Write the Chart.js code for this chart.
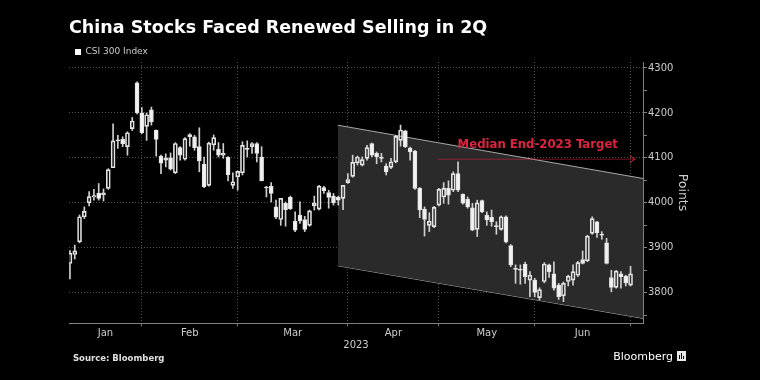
<!DOCTYPE html>
<html><head><meta charset="utf-8">
<script src="https://cdn.jsdelivr.net/npm/chart.js@4.4.0/dist/chart.umd.min.js"></script>
<style>html,body{margin:0;padding:0;background:#000;}#wrap{width:760px;height:380px;}</style>
</head><body><div id="wrap"><canvas id="c" width="760" height="380"></canvas></div>
<script>
// ---- Data: CSI 300 daily OHLC, 2023-01-03 .. 2023-06-30 (trading days) ----
const dates = [
 '2023-01-03','2023-01-04','2023-01-05','2023-01-06','2023-01-09','2023-01-10','2023-01-11','2023-01-12','2023-01-13','2023-01-16','2023-01-17','2023-01-18','2023-01-19','2023-01-20','2023-01-30','2023-01-31',
 '2023-02-01','2023-02-02','2023-02-03','2023-02-06','2023-02-07','2023-02-08','2023-02-09','2023-02-10','2023-02-13','2023-02-14','2023-02-15','2023-02-16','2023-02-17','2023-02-20','2023-02-21','2023-02-22','2023-02-23','2023-02-24','2023-02-27','2023-02-28',
 '2023-03-01','2023-03-02','2023-03-03','2023-03-06','2023-03-07','2023-03-08','2023-03-09','2023-03-10','2023-03-13','2023-03-14','2023-03-15','2023-03-16','2023-03-17','2023-03-20','2023-03-21','2023-03-22','2023-03-23','2023-03-24','2023-03-27','2023-03-28','2023-03-29','2023-03-30','2023-03-31',
 '2023-04-03','2023-04-04','2023-04-06','2023-04-07','2023-04-10','2023-04-11','2023-04-12','2023-04-13','2023-04-14','2023-04-17','2023-04-18','2023-04-19','2023-04-20','2023-04-21','2023-04-24','2023-04-25','2023-04-26','2023-04-27','2023-04-28',
 '2023-05-04','2023-05-05','2023-05-08','2023-05-09','2023-05-10','2023-05-11','2023-05-12','2023-05-15','2023-05-16','2023-05-17','2023-05-18','2023-05-19','2023-05-22','2023-05-23','2023-05-24','2023-05-25','2023-05-26','2023-05-29','2023-05-30','2023-05-31',
 '2023-06-01','2023-06-02','2023-06-05','2023-06-06','2023-06-07','2023-06-08','2023-06-09','2023-06-12','2023-06-13','2023-06-14','2023-06-15','2023-06-16','2023-06-19','2023-06-20','2023-06-21','2023-06-26','2023-06-27','2023-06-28','2023-06-29','2023-06-30'
];
const openVals = [
 3865,3885,3913,3969,4000,4013,4021,4022,4032,4078,4139,4141,4125,4165,4267,4200,
 4170,4207,4162,4104,4100,4100,4067,4123,4097,4152,4147,4125,4086,4039,4129,4119,4110,4101,4039,4058,
 4067,4120,4125,4132,4102,4035,4037,3991,3963,3999,4012,3959,3973,3963,3950,3993,3986,4034,4023,4015,4013,4010,4045,
 4059,4089,4084,4099,4132,4110,4102,4082,4079,4091,4139,4160,4122,4115,4032,3986,3950,3947,3995,
 4013,4032,4028,4065,4019,4008,3989,3941,4005,3973,3968,3948,3941,3969,3905,3854,3851,3864,3828,3828,
 3789,3825,3862,3842,3817,3793,3825,3828,3839,3874,3871,3932,3958,3929,3911,3834,3812,3842,3837,3817
];
const highVals = [
 3894,3906,3973,3991,4025,4030,4043,4031,4076,4176,4150,4147,4158,4190,4269,4212,
 4200,4213,4162,4106,4109,4111,4134,4125,4145,4154,4150,4167,4102,4135,4151,4134,4132,4103,4067,4071,
 4136,4138,4134,4134,4125,4037,4045,4006,4010,4002,4015,3980,4002,3970,3984,4015,4039,4037,4028,4021,4015,4039,4065,
 4106,4104,4102,4128,4133,4113,4110,4087,4099,4150,4173,4161,4124,4117,4034,3991,3978,3992,4032,
 4045,4049,4069,4091,4020,4013,3999,4006,4006,3980,3984,3958,3971,3971,3907,3862,3862,3868,3847,3832,
 3811,3867,3864,3869,3821,3824,3839,3862,3870,3893,3928,3969,3959,3936,3921,3850,3850,3847,3839,3859
];
const lowVals = [
 3831,3875,3911,3965,3993,4006,4006,4004,4030,4078,4121,4125,4106,4161,4198,4154,
 4139,4173,4104,4065,4080,4073,4065,4095,4095,4126,4117,4069,4034,4037,4117,4102,4099,4049,4032,4028,
 4062,4102,4110,4091,4049,4013,4002,3965,3950,3948,3985,3936,3954,3936,3948,3984,3984,4021,3988,3995,3995,3985,4043,
 4057,4084,4082,4095,4102,4087,4091,4062,4076,4089,4126,4123,4095,4030,3967,3926,3936,3945,3993,
 3999,3997,4025,4025,3997,3988,3938,3925,3978,3950,3948,3930,3939,3911,3858,3821,3819,3821,3791,3791,
 3784,3822,3834,3806,3785,3780,3815,3817,3836,3864,3869,3930,3923,3919,3864,3802,3810,3810,3815,3815
];
const closeVals = [
 3888,3893,3969,3981,4014,4016,4010,4018,4074,4138,4138,4131,4156,4182,4200,4156,
 4196,4180,4141,4088,4095,4075,4132,4106,4143,4147,4123,4093,4036,4133,4145,4106,4106,4062,4047,4070,
 4128,4119,4132,4110,4049,4033,4021,3968,4010,3985,3987,3939,3960,3941,3982,3999,4037,4027,4012,4000,4006,4039,4052,
 4090,4102,4096,4123,4106,4102,4099,4069,4091,4148,4162,4125,4113,4032,3984,3963,3959,3990,4030,
 4032,4017,4065,4028,3999,3991,3939,4000,3980,3962,3958,3947,3969,3913,3862,3852,3850,3836,3839,3801,
 3807,3864,3847,3810,3791,3821,3837,3847,3867,3865,3926,3965,3933,3928,3865,3812,3848,3836,3822,3842
];
const monthLabels = ['Jan','Feb','Mar','Apr','May','Jun'];
const yearLabel = '2023';
const yMajorTicks = [3800, 3900, 4000, 4100, 4200, 4300];
const seriesName = 'CSI 300 Index';
// Downward channel (values at its left and right ends, in index units)
const channelX = [55.9, 119.6];
const channelTop = [4172.7, 4054.2];
const channelBottom = [3860, 3743];
// Median end-2023 target
const targetValue = 4097;
const targetX = [76.9, 117.9];
const targetText = 'Median End-2023 Target';
const targetTextAnchor = {x: 80.9, y: 4121};

// ---- derived ----
const N = dates.length;
const xMin = -0.2, xMax = 119.6;
const monthEnds = [];
for (let i = 0; i < N; i++) {
  if (i === N - 1 || dates[i].slice(0, 7) !== dates[i + 1].slice(0, 7)) monthEnds.push(i);
}
const labelPos = monthEnds.map((e, k) => ((k === 0 ? xMin : monthEnds[k - 1]) + e) / 2);
const yMinorTicks = yMajorTicks.map(v => v - 50);
const yAllTicks = yMinorTicks.concat(yMajorTicks).sort((a, b) => a - b);
const isUp = closeVals.map((c, i) => c >= openVals[i]);
const bodies = dates.map((d, i) => ({x: i, y: [openVals[i], closeVals[i]]}));
const upperWicks = dates.map((d, i) => ({x: i, y: [Math.max(openVals[i], closeVals[i]), highVals[i]]}));
const lowerWicks = dates.map((d, i) => ({x: i, y: [lowVals[i], Math.min(openVals[i], closeVals[i])]}));

const FONT = 'DejaVu Sans';
const RED = '#dc2340';
Chart.defaults.font.family = FONT;

const overlay = {
  id: 'overlay',
  afterDatasetsDraw(chart) {
    const {ctx, scales: {x, y}} = chart;
    // arrow head on target line
    const tx = x.getPixelForValue(targetX[1]);
    const ty = y.getPixelForValue(targetValue);
    ctx.save();
    ctx.strokeStyle = RED; ctx.lineWidth = 1;
    ctx.beginPath();
    ctx.moveTo(tx - 5, ty - 3.5); ctx.lineTo(tx, ty); ctx.lineTo(tx - 5, ty + 3.5);
    ctx.stroke();
    ctx.fillStyle = RED;
    ctx.font = 'bold 11.7px "' + FONT + '"';
    ctx.textAlign = 'left'; ctx.textBaseline = 'alphabetic';
    ctx.fillText(targetText, x.getPixelForValue(targetTextAnchor.x), y.getPixelForValue(targetTextAnchor.y));
    ctx.restore();
  },
  afterDraw(chart) {
    const {ctx} = chart;
    ctx.save();
    ctx.fillStyle = '#e0e0e0';
    ctx.font = 'bold 8.5px "' + FONT + '"';
    ctx.textAlign = 'left'; ctx.textBaseline = 'alphabetic';
    ctx.fillText('Source: Bloomberg', 73, 361);
    ctx.fillStyle = '#ffffff';
    ctx.font = '11px "' + FONT + '"';
    ctx.textAlign = 'right';
    ctx.fillText('Bloomberg', 673, 360);
    // small logo mark
    ctx.fillStyle = '#e8e8e8';
    ctx.fillRect(677, 351, 9, 10);
    ctx.fillStyle = '#000';
    ctx.fillRect(679, 355, 1, 4); ctx.fillRect(681, 353, 1, 6); ctx.fillRect(683, 356, 1, 3);
    ctx.restore();
  }
};

new Chart(document.getElementById('c'), {
  type: 'bar',
  data: {
    datasets: [
      {
        label: seriesName, data: bodies, grouped: false, order: 1,
        barThickness: 4, minBarLength: 1, borderSkipped: false, borderWidth: 1,
        borderColor: '#e2e2e2',
        backgroundColor: c => isUp[c.dataIndex] ? 'rgba(0,0,0,0)' : '#f2f2f2'
      },
      { label: 'upper', data: upperWicks, grouped: false, order: 2, barThickness: 1, borderWidth: 0, backgroundColor: '#cfcfcf' },
      { label: 'lower', data: lowerWicks, grouped: false, order: 2, barThickness: 1, borderWidth: 0, backgroundColor: '#cfcfcf' },
      {
        type: 'line', label: 'channelTop', order: 10,
        data: channelX.map((v, i) => ({x: v, y: channelTop[i]})),
        borderColor: '#a8a8a8', borderWidth: 1, pointRadius: 0, fill: '+1', backgroundColor: '#2a2a2a'
      },
      {
        type: 'line', label: 'channelBottom', order: 11,
        data: channelX.map((v, i) => ({x: v, y: channelBottom[i]})),
        borderColor: '#a8a8a8', borderWidth: 1, pointRadius: 0, fill: false
      },
      {
        type: 'line', label: 'target', order: 0,
        data: targetX.map(v => ({x: v, y: targetValue})),
        borderColor: RED, borderWidth: 1, borderDash: [1, 1], pointRadius: 0, fill: false
      }
    ]
  },
  options: {
    responsive: false, animation: false, devicePixelRatio: 1,
    layout: {padding: {left: 69, right: 70, top: 0, bottom: 25}},
    plugins: {
      tooltip: {enabled: false},
      title: {
        display: true, text: 'China Stocks Faced Renewed Selling in 2Q', align: 'start', color: '#ffffff',
        font: {family: FONT, weight: 'bold', size: 17.5, lineHeight: 1.2},
        padding: {top: 17.7, bottom: 2.8}
      },
      legend: {
        display: true, align: 'start', maxHeight: 20.5,
        labels: {
          boxWidth: 6, boxHeight: 6, padding: 6, color: '#cccccc', font: {family: FONT, size: 9},
          generateLabels: () => [{text: seriesName, fillStyle: '#ffffff', strokeStyle: '#ffffff', lineWidth: 0, hidden: false, datasetIndex: 0, fontColor: '#cccccc'}]
        }
      }
    },
    scales: {
      x: {
        type: 'linear', min: xMin, max: xMax, offset: false, weight: 0,
        afterBuildTicks: s => { s.ticks = monthEnds.map(v => ({value: v})); },
        afterFit: s => { s.height = 0; },
        ticks: {display: false},
        grid: {offset: false, color: '#505050', drawTicks: true, tickLength: 3, tickColor: '#808080', tickBorderDash: []},
        border: {display: true, color: '#808080', width: 1, dash: [1, 2]}
      },
      x2: {
        type: 'linear', position: 'bottom', min: xMin, max: xMax, offset: false, weight: 1,
        afterBuildTicks: s => { s.ticks = labelPos.map(v => ({value: v})); },
        afterFit: s => { s.height = 32; },
        ticks: {autoSkip: false, maxRotation: 0, padding: 4, color: '#cccccc', font: {family: FONT, size: 10},
          callback: (v, i) => monthLabels[i]},
        grid: {display: false, drawTicks: false, offset: false},
        border: {display: false},
        title: {display: true, text: yearLabel, color: '#cccccc', font: {family: FONT, size: 10}, padding: {top: 0, bottom: 4}}
      },
      y: {
        type: 'linear', position: 'right', min: 3732.7, max: 4313.3, beginAtZero: false,
        afterBuildTicks: s => { s.ticks = yAllTicks.map(v => ({value: v})); },
        afterFit: s => { s.width = 47; },
        ticks: {padding: 1, color: '#cccccc', font: {family: FONT, size: 10},
          callback: v => yMajorTicks.includes(v) ? String(v) : ''},
        grid: {
          color: c => (c.tick && yMajorTicks.includes(c.tick.value)) ? '#505050' : 'rgba(0,0,0,0)',
          drawTicks: true, tickLength: 4, tickColor: '#808080', tickBorderDash: []
        },
        border: {display: true, color: '#808080', width: 1, dash: [1, 2]},
        title: {display: true, text: 'Points', color: '#cccccc', font: {family: FONT, size: 12.5}, padding: {top: 0, bottom: 0}}
      }
    }
  },
  plugins: [overlay]
});
</script>
</body></html>
